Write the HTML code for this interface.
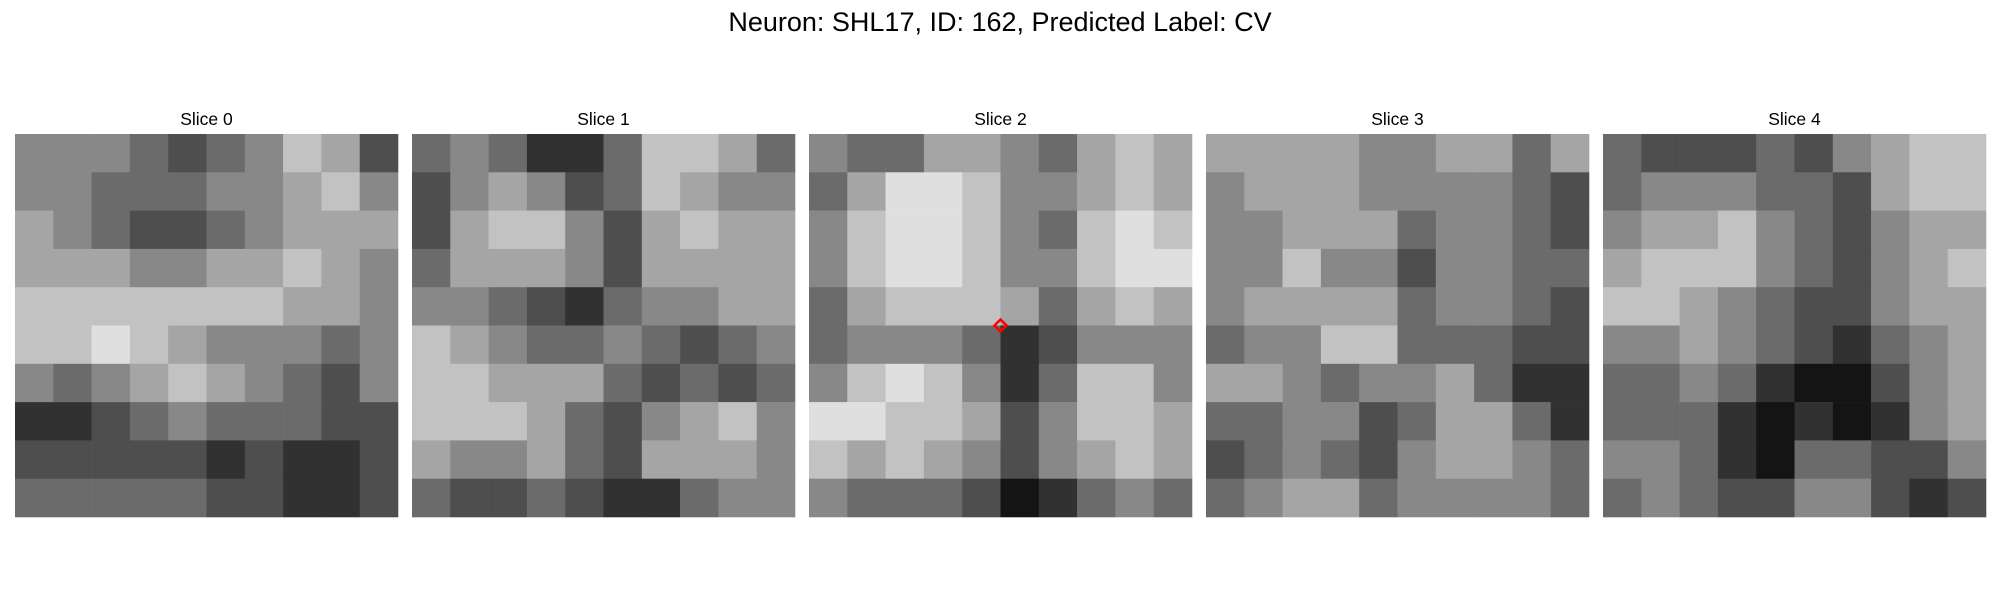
<!DOCTYPE html>
<html><head><meta charset="utf-8"><style>
body{margin:0;background:#fff;}
svg{display:block;font-family:"Liberation Sans","DejaVu Sans",sans-serif;}
</style></head><body>
<svg id="fig" width="2000" height="600" viewBox="0 0 2000 600">
<text x="1000" y="31" text-anchor="middle" font-size="27" fill="#000">Neuron: SHL17, ID: 162, Predicted Label: CV</text>
</svg>
<script>
const sliceLabels = ["Slice 0","Slice 1","Slice 2","Slice 3","Slice 4"];
const slice0 = [[5,5,5,4,3,4,5,7,6,3],[5,5,4,4,4,5,5,6,7,5],[6,5,4,3,3,4,5,6,6,6],[6,6,6,5,5,6,6,7,6,5],[7,7,7,7,7,7,7,6,6,5],[7,7,8,7,6,5,5,5,4,5],[5,4,5,6,7,6,5,4,3,5],[2,2,3,4,5,4,4,4,3,3],[3,3,3,3,3,2,3,2,2,3],[4,4,4,4,4,3,3,2,2,3]];
const slice1 = [[4,5,4,2,2,4,7,7,6,4],[3,5,6,5,3,4,7,6,5,5],[3,6,7,7,5,3,6,7,6,6],[4,6,6,6,5,3,6,6,6,6],[5,5,4,3,2,4,5,5,6,6],[7,6,5,4,4,5,4,3,4,5],[7,7,6,6,6,4,3,4,3,4],[7,7,7,6,4,3,5,6,7,5],[6,5,5,6,4,3,6,6,6,5],[4,3,3,4,3,2,2,4,5,5]];
const slice2 = [[5,4,4,6,6,5,4,6,7,6],[4,6,8,8,7,5,5,6,7,6],[5,7,8,8,7,5,4,7,8,7],[5,7,8,8,7,5,5,7,8,8],[4,6,7,7,7,6,4,6,7,6],[4,5,5,5,4,2,3,5,5,5],[5,7,8,7,5,2,4,7,7,5],[8,8,7,7,6,3,5,7,7,6],[7,6,7,6,5,3,5,6,7,6],[5,4,4,4,3,1,2,4,5,4]];
const slice3 = [[6,6,6,6,5,5,6,6,4,6],[5,6,6,6,5,5,5,5,4,3],[5,5,6,6,6,4,5,5,4,3],[5,5,7,5,5,3,5,5,4,4],[5,6,6,6,6,4,5,5,4,3],[4,5,5,7,7,4,4,4,3,3],[6,6,5,4,5,5,6,4,2,2],[4,4,5,5,3,4,6,6,4,2],[3,4,5,4,3,5,6,6,5,4],[4,5,6,6,4,5,5,5,5,4]];
const slice4 = [[4,3,3,3,4,3,5,6,7,7],[4,5,5,5,4,4,3,6,7,7],[5,6,6,7,5,4,3,5,6,6],[6,7,7,7,5,4,3,5,6,7],[7,7,6,5,4,3,3,5,6,6],[5,5,6,5,4,3,2,4,5,6],[4,4,5,4,2,1,1,3,5,6],[4,4,4,2,1,2,1,2,5,6],[5,5,4,2,1,4,4,3,3,5],[4,5,4,3,3,5,5,3,2,3]];
const slices = [slice0, slice1, slice2, slice3, slice4];
const markerCell = [5.0, 5.0];

const NS = "http://www.w3.org/2000/svg";
const svg = document.getElementById('fig');
const panelX0 = 15, panelStep = 397, panelY = 134, panelSize = 383;
function xScale(p, c, n){ return panelX0 + p*panelStep + c*panelSize/n; }
function yScale(r, n){ return panelY + r*panelSize/n; }
function gray(v){ const g = Math.round(Math.max(0,Math.min(255,(v-0.3)*29))); return `rgb(${g},${g},${g})`; }

slices.forEach((grid, p) => {
  const n = grid.length;
  const g = document.createElementNS(NS,'g');
  
  
  grid.forEach((row, r) => row.forEach((v, c) => {
    const rect = document.createElementNS(NS,'rect');
    
    
    rect.setAttribute('x', xScale(p, c, n));
    rect.setAttribute('y', yScale(r, n));
    rect.setAttribute('width', panelSize/n + 0.3);
    rect.setAttribute('height', panelSize/n + 0.3);
    rect.setAttribute('fill', gray(v));
    g.appendChild(rect);
  }));
  svg.appendChild(g);
  const t = document.createElementNS(NS,'text');
  
  
  t.setAttribute('x', xScale(p, 0, 1) + panelSize/2);
  t.setAttribute('y', 125);
  t.setAttribute('text-anchor', 'middle');
  t.setAttribute('font-size', '17.5');
  t.textContent = sliceLabels[p];
  svg.appendChild(t);
});

const mx = xScale(2, markerCell[0], 10), my = yScale(markerCell[1], 10);
const d = document.createElementNS(NS,'path');


d.setAttribute('d', `M${mx} ${my-6} L${mx+6} ${my} L${mx} ${my+6} L${mx-6} ${my} Z`);
d.setAttribute('fill', 'none');
d.setAttribute('stroke', '#ff0000');
d.setAttribute('stroke-width', '2.5');
svg.appendChild(d);
</script>
</body></html>
